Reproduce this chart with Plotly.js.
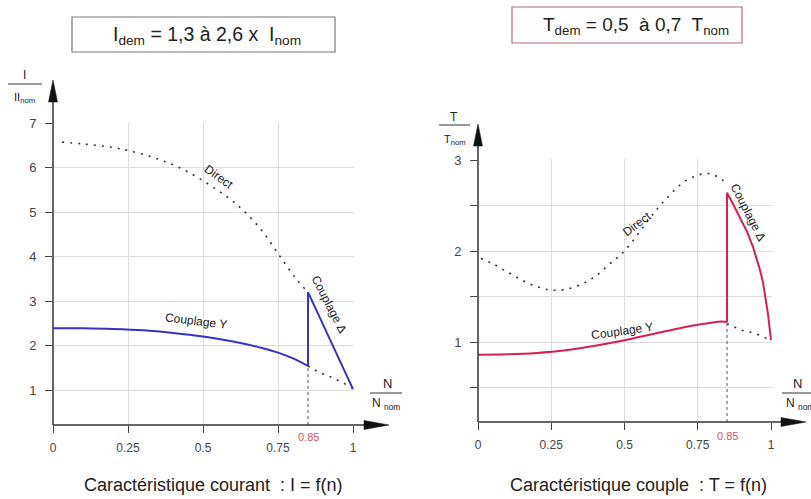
<!DOCTYPE html>
<html><head><meta charset="utf-8">
<script src="https://cdn.plot.ly/plotly-3.0.1.min.js"></script>
<style>html,body{margin:0;padding:0;background:#fff;}#chart{width:811px;height:499px;}</style>
</head><body><div id="chart"></div>
<script>
// ---- data ----
// Left: current I/Inom vs N/Nnom
const curDirectX = [0.03, 0.1, 0.2, 0.257, 0.35, 0.45, 0.58, 0.64, 0.7, 0.757, 0.81, 0.85];
const curDirectY = [6.57, 6.53, 6.45, 6.37, 6.19, 5.9, 5.34, 5.0, 4.55, 4.0, 3.5, 3.2];
const curStarX = [0, 0.1, 0.2, 0.3, 0.4, 0.5, 0.6, 0.7, 0.75, 0.8, 0.85];
const curStarY = [2.39, 2.385, 2.37, 2.34, 2.28, 2.2, 2.09, 1.94, 1.84, 1.71, 1.54];
const curDeltaX = [0.85, 0.85, 1.0];
const curDeltaY = [1.54, 3.2, 1.02];
const curStarExtX = [0.85, 0.88, 0.93, 0.97, 1.0];
const curStarExtY = [1.54, 1.42, 1.28, 1.15, 1.03];
// Right: torque T/Tnom vs N/Nnom
const torDirectX = [0.01, 0.05, 0.1, 0.15, 0.2, 0.25, 0.3, 0.35, 0.4, 0.45, 0.5, 0.577, 0.63, 0.713, 0.79, 0.85];
const torDirectY = [1.92, 1.86, 1.77, 1.68, 1.61, 1.57, 1.58, 1.63, 1.72, 1.86, 2.0, 2.32, 2.53, 2.78, 2.85, 2.74];
const torStarX = [0, 0.1, 0.2, 0.3, 0.4, 0.5, 0.6, 0.7, 0.75, 0.8, 0.83, 0.85];
const torStarY = [0.86, 0.865, 0.88, 0.91, 0.96, 1.02, 1.09, 1.16, 1.19, 1.215, 1.225, 1.22];
const torDeltaX = [0.85, 0.85, 0.87, 0.894, 0.92, 0.939, 0.96, 0.973, 0.99, 1.0];
const torDeltaY = [1.22, 2.64, 2.52, 2.37, 2.2, 2.04, 1.82, 1.65, 1.3, 1.02];
const torStarExtX = [0.85, 0.9, 0.95, 1.0];
const torStarExtY = [1.2, 1.13, 1.09, 1.02];
const switchSpeed = 0.85;
const xTickVals = [0, 0.25, 0.5, 0.75, 1];
const xTickText = ['0', '0.25', '0.5', '0.75', '1'];
const curTickVals = [1, 2, 3, 4, 5, 6, 7];
const torTickVals = [0.5, 1, 1.5, 2, 2.5, 3];
const torTickText = ['', '1', '', '2', '', '3'];

// ---- layout geometry ----
const W = 811, H = 499;
const L = {x0: 53, xs: 300, y1: 390, ys: 44.5, ymin: 0.2135, ymax: 7.02, xmax: 1.003};
const R = {x0: 478, xs: 293, y1: 342, ys: 91, ymin: 0.121, ymax: 3.01, xmax: 1.003};
function dom(g) {
  const top = g.y1 - (g.ymax - 1) * g.ys, bot = g.y1 + (1 - g.ymin) * g.ys;
  return {x: [g.x0 / W, (g.x0 + g.xmax * g.xs) / W], y: [1 - bot / H, 1 - top / H], bot: bot};
}
const dL = dom(L), dR = dom(R);
const px = v => v / W, py = v => 1 - v / H;

const blue = '#3434c8', red = '#d81f4f', ink = '#222', grid = '#dcdcdc';
const dotted = {color: '#333', width: 1.6, dash: '2px,6px'};

const traces = [
  {x: curDirectX, y: curDirectY, mode: 'lines', line: Object.assign({}, dotted, {shape: 'spline'}), xaxis: 'x', yaxis: 'y'},
  {x: curStarExtX, y: curStarExtY, mode: 'lines', line: dotted, xaxis: 'x', yaxis: 'y'},
  {x: [switchSpeed, switchSpeed], y: [L.ymin, curStarY[curStarY.length - 1]], mode: 'lines', line: {color: '#555', width: 1, dash: '3px,3px'}, xaxis: 'x', yaxis: 'y'},
  {x: curStarX, y: curStarY, mode: 'lines', line: {color: blue, width: 2, shape: 'spline'}, xaxis: 'x', yaxis: 'y'},
  {x: curDeltaX, y: curDeltaY, mode: 'lines', line: {color: blue, width: 2}, xaxis: 'x', yaxis: 'y'},

  {x: torDirectX, y: torDirectY, mode: 'lines', line: Object.assign({}, dotted, {shape: 'spline'}), xaxis: 'x2', yaxis: 'y2'},
  {x: torStarExtX, y: torStarExtY, mode: 'lines', line: dotted, xaxis: 'x2', yaxis: 'y2'},
  {x: [switchSpeed, switchSpeed], y: [R.ymin, torStarY[torStarY.length - 1]], mode: 'lines', line: {color: '#555', width: 1, dash: '3px,3px'}, xaxis: 'x2', yaxis: 'y2'},
  {x: torStarX, y: torStarY, mode: 'lines', line: {color: red, width: 2, shape: 'spline'}, xaxis: 'x2', yaxis: 'y2'},
  {x: torDeltaX, y: torDeltaY, mode: 'lines', line: {color: red, width: 2}, xaxis: 'x2', yaxis: 'y2'}
];
traces.forEach(t => { t.hoverinfo = 'skip'; t.showlegend = false; });

const tickFont = {family: 'Liberation Sans, Arial, sans-serif', size: 12, color: '#444'};
function xax(d, anchor) {
  return {domain: d.x, range: [0, 1.003], anchor: anchor, tickvals: xTickVals, ticktext: xTickText,
    ticks: 'outside', ticklen: 7, tickcolor: '#444', tickfont: tickFont, ticklabelstandoff: 5,
    showgrid: true, gridcolor: grid, gridwidth: 1, zeroline: false, showline: false, fixedrange: true};
}
function yax(d, anchor, g, vals, text) {
  const o = {domain: d.y, range: [g.ymin, g.ymax], anchor: anchor, tickvals: vals,
    ticks: 'outside', ticklen: 7, tickcolor: '#444', tickfont: Object.assign({}, tickFont, {size: 13}), ticklabelstandoff: 6,
    showgrid: true, gridcolor: grid, gridwidth: 1, zeroline: false, showline: false, fixedrange: true};
  if (text) o.ticktext = text;
  return o;
}

const axCol = '#333';
const shapes = [];
function axes(g, xTip, yTip) {
  const bot = g.y1 + (1 - g.ymin) * g.ys;
  shapes.push({type: 'line', xref: 'paper', yref: 'paper', x0: px(g.x0), y0: py(bot), x1: px(xTip - 18), y1: py(bot), line: {color: axCol, width: 1.5}});
  shapes.push({type: 'path', xref: 'paper', yref: 'paper', path: `M ${px(xTip)} ${py(bot)} L ${px(xTip - 25)} ${py(bot - 4.5)} L ${px(xTip - 25)} ${py(bot + 4.5)} Z`, fillcolor: '#111', line: {color: '#111', width: 0.5}});
  shapes.push({type: 'line', xref: 'paper', yref: 'paper', x0: px(g.x0), y0: py(bot), x1: px(g.x0), y1: py(yTip + 15), line: {color: axCol, width: 1.5}});
  shapes.push({type: 'path', xref: 'paper', yref: 'paper', path: `M ${px(g.x0)} ${py(yTip)} L ${px(g.x0 - 4.5)} ${py(yTip + 22)} L ${px(g.x0 + 4.5)} ${py(yTip + 22)} Z`, fillcolor: '#111', line: {color: '#111', width: 0.5}});
}
axes(L, 389, 80);
axes(R, 806, 124);

function fracLine(x0, x1, y) {
  shapes.push({type: 'line', xref: 'paper', yref: 'paper', x0: px(x0), x1: px(x1), y0: py(y), y1: py(y), line: {color: '#333', width: 1}});
}
fracLine(8, 42, 84);
fracLine(439, 470, 125);
fracLine(370, 402, 393);
fracLine(782, 811, 393);

// title boxes
shapes.push({type: 'rect', xref: 'paper', yref: 'paper', x0: px(72), x1: px(335), y0: py(17), y1: py(52), line: {color: '#7a7a7a', width: 1.2}, fillcolor: 'rgba(0,0,0,0)'});
shapes.push({type: 'rect', xref: 'paper', yref: 'paper', x0: px(512), x1: px(742), y0: py(7), y1: py(43), line: {color: '#b86a78', width: 1.2}, fillcolor: 'rgba(0,0,0,0)'});

const F = 'Liberation Sans, Arial, sans-serif';
function ann(text, x, y, size, opts) {
  return Object.assign({text: text, xref: 'paper', yref: 'paper', x: px(x), y: py(y), showarrow: false,
    xanchor: 'center', yanchor: 'middle', font: {family: F, size: size, color: ink}}, opts || {});
}
const annotations = [
  ann('I<sub>dem</sub> = 1,3 à 2,6 x  I<sub>nom</sub>', 207, 36, 19.5),
  ann('T<sub>dem</sub> = 0,5  à 0,7  T<sub>nom</sub>', 636, 26, 19),
  ann('Caractéristique courant  : I = f(n)', 213, 485, 18),
  ann('Caractéristique couple  : T = f(n)', 638, 485, 18),
  // axis fraction titles
  ann('I', 24, 75, 12),
  ann('II<sub>nom</sub>', 24, 98, 11),
  ann('T', 454, 117, 12),
  ann('T<sub>nom</sub>', 455, 140, 11),
  ann('N', 387, 383, 13),
  ann('N <sub>nom</sub>', 386, 404, 12),
  ann('N', 797, 383, 13),
  ann('N <sub>nom</sub>', 800, 404, 12),
  // 0.85 markers
  ann(String(switchSpeed), 308, 437, 11, {font: {family: F, size: 11, color: '#d0506a'}}),
  ann(String(switchSpeed), 727, 436, 11, {font: {family: F, size: 11, color: '#d0506a'}}),
  // curve labels
  ann('Direct', 219, 177, 12, {textangle: 35}),
  ann('Couplage Y', 196, 321, 12, {textangle: 7}),
  ann('Couplage Δ', 329, 304, 12, {textangle: 63}),
  ann('Direct', 637, 224, 12, {textangle: -37}),
  ann('Couplage Y', 622, 331, 12, {textangle: -8}),
  ann('Couplage Δ', 748, 212, 12, {textangle: 63})
];

const layout = {
  width: W, height: H, margin: {l: 0, r: 0, t: 0, b: 0},
  paper_bgcolor: '#fff', plot_bgcolor: 'rgba(0,0,0,0)', showlegend: false,
  font: {family: F},
  xaxis: xax(dL, 'y'), yaxis: yax(dL, 'x', L, curTickVals),
  xaxis2: xax(dR, 'y2'), yaxis2: yax(dR, 'x2', R, torTickVals, torTickText),
  shapes: shapes, annotations: annotations
};
Plotly.newPlot('chart', traces, layout, {displayModeBar: false, staticPlot: true});
</script></body></html>
